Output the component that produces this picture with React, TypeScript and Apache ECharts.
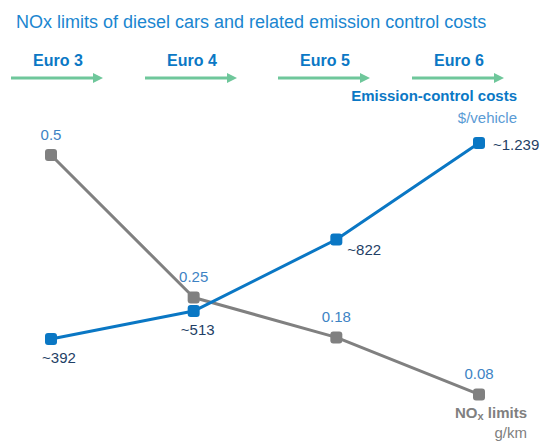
import React, { useEffect, useRef } from "react";
import * as echarts from "echarts";

const stages = ["Euro 3", "Euro 4", "Euro 5", "Euro 6"];
const noxLimits = [0.5, 0.25, 0.18, 0.08];
const noxLabels = ["0.5", "0.25", "0.18", "0.08"];
const costs = [392, 513, 822, 1239];
const costLabels = ["~392", "~513", "~822", "~1.239"];

const FONT = "'Liberation Sans', Arial, sans-serif";
const GRAY = "#808080";
const BLUE = "#0a77c4";
const ARROW = "#6fc79b";

export default function App() {
  const ref = useRef<HTMLDivElement>(null);
  useEffect(() => {
    if (!ref.current) return;
    const chart = echarts.init(ref.current, undefined, { renderer: "svg" });
    const arrowStarts = [11, 145, 278, 412];
    const arrows: any[] = [];
    arrowStarts.forEach((x0, i) => {
      arrows.push({
        type: "line",
        shape: { x1: x0, y1: 78, x2: x0 + 84, y2: 78 },
        style: { stroke: ARROW, lineWidth: 3 },
      });
      arrows.push({
        type: "polygon",
        shape: { points: [[x0 + 82, 73], [x0 + 92, 78], [x0 + 82, 83]] },
        style: { fill: ARROW },
      });
      arrows.push({
        type: "text",
        x: x0 + 47,
        y: 60,
        style: {
          text: stages[i],
          fill: "#0b78c5",
          font: `bold 16px ${FONT}`,
          align: "center",
          verticalAlign: "middle",
        },
      });
    });
    const costLabelCfg = [
      { position: "bottom", offset: [8, 0], distance: 5 },
      { position: "bottom", offset: [4, 0], distance: 5 },
      { position: "right", offset: [0, 10], distance: 5 },
      { position: "right", offset: [0, 1], distance: 8 },
    ];
    chart.setOption({
      animation: false,
      textStyle: { fontFamily: FONT },
      title: {
        text: "NOx limits of diesel cars and related emission control costs",
        left: 11,
        top: 8,
        textStyle: { color: "#1a86d0", fontSize: 18, fontWeight: "normal", fontFamily: FONT },
      },
      grid: { left: 51, right: 62, top: 143, bottom: 1 },
      xAxis: {
        type: "category",
        data: stages,
        boundaryGap: false,
        show: false,
      },
      yAxis: [
        { type: "value", min: 0, max: 0.521, show: false },
        { type: "value", min: -44, max: 1239, show: false },
      ],
      series: [
        {
          type: "line",
          yAxisIndex: 0,
          data: noxLimits,
          symbol: "roundRect",
          symbolSize: 12,
          lineStyle: { color: GRAY, width: 3 },
          itemStyle: { color: GRAY },
          label: {
            show: true,
            position: "top",
            distance: 7,
            color: "#3d83c4",
            fontSize: 15,
            formatter: (p: any) => noxLabels[p.dataIndex],
          },
          z: 2,
        },
        {
          type: "line",
          yAxisIndex: 1,
          data: costs.map((v, i) => ({
            value: v,
            label: costLabelCfg[i],
          })),
          symbol: "roundRect",
          symbolSize: 12,
          lineStyle: { color: BLUE, width: 3 },
          itemStyle: { color: BLUE },
          label: {
            show: true,
            color: "#1f3f66",
            fontSize: 15,
            formatter: (p: any) => costLabels[p.dataIndex],
          },
          z: 3,
        },
      ],
      graphic: [
        ...arrows,
        {
          type: "text",
          right: 24,
          top: 88,
          style: {
            text: "Emission-control costs",
            fill: "#0b78c5",
            font: `bold 15px ${FONT}`,
          },
        },
        {
          type: "text",
          right: 24,
          top: 110,
          style: {
            text: "$/vehicle",
            fill: "#5a9bd5",
            font: `15px ${FONT}`,
          },
        },
        {
          type: "text",
          right: 14,
          top: 405,
          style: {
            text: "{a|NO}{b|x}{a| limits}",
            rich: {
              a: { fill: GRAY, fontFamily: FONT, fontWeight: "bold", fontSize: 15, color: GRAY },
              b: { fill: GRAY, fontFamily: FONT, fontWeight: "bold", fontSize: 11, color: GRAY, padding: [7, 0, 0, 0] },
            },
          },
        } as any,
        {
          type: "text",
          right: 14,
          top: 425,
          style: {
            text: "g/km",
            fill: GRAY,
            font: `15px ${FONT}`,
          },
        },
      ],
    });
    return () => chart.dispose();
  }, []);
  return <div ref={ref} style={{ width: 541, height: 441, position: "absolute", left: 0, top: 0 }} />;
}
